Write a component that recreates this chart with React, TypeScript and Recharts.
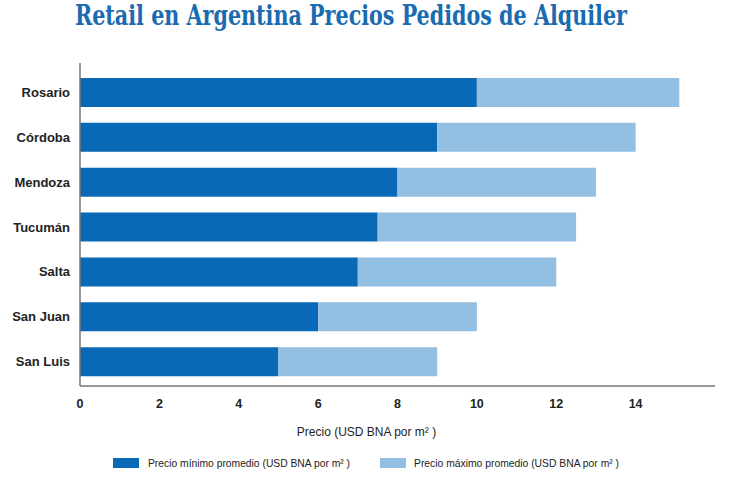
import { BarChart, Bar, XAxis, YAxis } from "recharts";

const CIUDADES = ["Rosario", "Córdoba", "Mendoza", "Tucumán", "Salta", "San Juan", "San Luis"];
const PRECIO_MIN = [10, 9, 8, 7.5, 7, 6, 5];
const PRECIO_MAX = [15.1, 14, 13, 12.5, 12, 10, 9];
const TICKS_X = [0, 2, 4, 6, 8, 10, 12, 14];

const AZUL = "#0a69b6";
const CELESTE = "#93bfe3";
const EJE = "#777777";

const data = CIUDADES.map((ciudad, i) => ({
  ciudad,
  min: PRECIO_MIN[i],
  // el tramo claro va desde el mínimo hasta el máximo
  resto: PRECIO_MAX[i] - PRECIO_MIN[i],
}));

const fuente = "Arial, 'Liberation Sans', sans-serif";
const angosta = "'Liberation Sans Narrow', 'Arial Narrow', 'Liberation Sans', sans-serif";

export default function App() {
  return (
    <div style={{ position: "absolute", left: 0, top: 0, width: 730, height: 479, background: "#fff" }}>
      <svg width={730} height={479} style={{ position: "absolute", left: 0, top: 0 }}>
        <text
          x={351}
          y={25}
          textAnchor="middle"
          fill="#1b6bb0"
          fontFamily="'DejaVu Serif Condensed', 'DejaVu Serif', serif"
          fontWeight="bold"
          fontSize={27}
          textLength={552}
          lengthAdjust="spacingAndGlyphs"
        >
          Retail en Argentina Precios Pedidos de Alquiler
        </text>
        <rect x={113} y={458} width={26} height={10} fill={AZUL} />
        <text x={148} y={467} fontFamily={angosta} fontSize={11} fill="#222" textLength={202} lengthAdjust="spacingAndGlyphs">
          Precio mínimo promedio (USD BNA por m² )
        </text>
        <rect x={380} y={458} width={26} height={10} fill={CELESTE} />
        <text x={414} y={467} fontFamily={angosta} fontSize={11} fill="#222" textLength={205} lengthAdjust="spacingAndGlyphs">
          Precio máximo promedio (USD BNA por m² )
        </text>
      </svg>
      <div style={{ position: "absolute", left: 0, top: 0 }}>
        <BarChart
          width={730}
          height={479}
          data={data}
          layout="vertical"
          margin={{ top: 63, right: 15, bottom: 63, left: 0 }}
          barSize={29}
        >
          <XAxis
            type="number"
            domain={[0, 16]}
            ticks={TICKS_X}
            tickLine={false}
            tickSize={0}
            tickMargin={13}
            height={30}
            axisLine={{ stroke: EJE, strokeWidth: 1.5 }}
            tick={{ fill: "#222", fontSize: 12.5, fontWeight: "bold", fontFamily: fuente }}
            label={{
              value: "Precio (USD BNA por m² )",
              position: "bottom",
              offset: 11,
              dx: -31,
              fill: "#222",
              fontSize: 12,
              fontFamily: fuente,
            }}
          />
          <YAxis
            type="category"
            dataKey="ciudad"
            width={80}
            padding={{ top: 7, bottom: 2 }}
            tickLine={false}
            tickSize={0}
            tickMargin={10}
            axisLine={{ stroke: EJE, strokeWidth: 1.5 }}
            tick={{ fill: "#222", fontSize: 13, fontWeight: "bold", fontFamily: fuente }}
          />
          <Bar dataKey="min" stackId="p" fill={AZUL} isAnimationActive={false} />
          <Bar dataKey="resto" stackId="p" fill={CELESTE} isAnimationActive={false} />
        </BarChart>
      </div>
    </div>
  );
}
